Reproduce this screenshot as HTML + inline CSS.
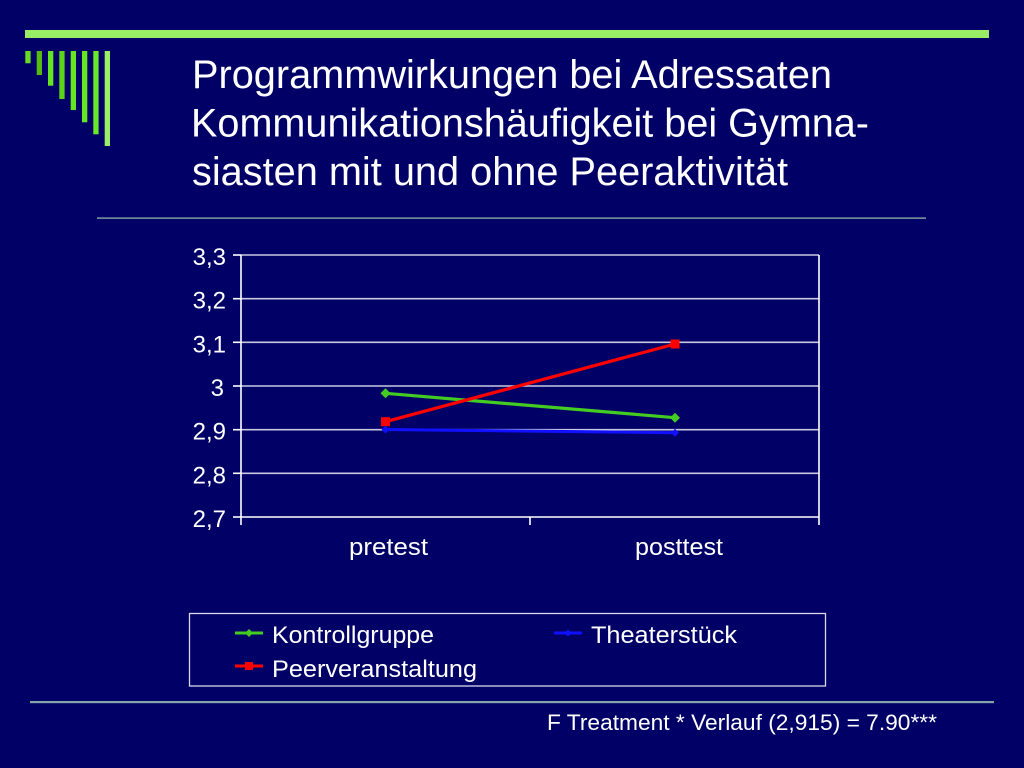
<!DOCTYPE html>
<html>
<head>
<meta charset="utf-8">
<style>
  html, body { margin:0; padding:0; background:#000066; }
  svg { display:block; }
  text { font-family: "Liberation Sans", Arial, sans-serif; fill:#ffffff; }
</style>
</head>
<body>
<svg width="1024" height="768" viewBox="0 0 1024 768" xmlns="http://www.w3.org/2000/svg">
  <rect x="0" y="0" width="1024" height="768" fill="#000066"/>

  <!-- top decoration -->
  <rect x="25" y="30" width="964" height="8" fill="#99ee66"/>
  <rect x="25.3" y="51" width="5.3" height="12.3" fill="#66dd22"/>
  <rect x="36.7" y="51" width="5.3" height="24" fill="#55bb11"/>
  <rect x="48" y="51" width="5.3" height="34.7" fill="#66e622"/>
  <rect x="59.3" y="51" width="5.3" height="48" fill="#5cd418"/>
  <rect x="70.7" y="51" width="5.3" height="59" fill="#66e622"/>
  <rect x="82" y="51" width="5.3" height="71.3" fill="#66e622"/>
  <rect x="93.3" y="51" width="5.3" height="83.3" fill="#6ae82a"/>
  <rect x="104.7" y="51" width="5.3" height="95" fill="#99ee66"/>

  <!-- title -->
  <text x="192" y="88" font-size="39.5" textLength="640" lengthAdjust="spacingAndGlyphs">Programmwirkungen bei Adressaten</text>
  <text x="191" y="136.5" font-size="39.5" textLength="678" lengthAdjust="spacingAndGlyphs">Kommunikationshäufigkeit bei Gymna-</text>
  <text x="192" y="185" font-size="39.5" textLength="596" lengthAdjust="spacingAndGlyphs">siasten mit und ohne Peeraktivität</text>

  <!-- title separator -->
  <rect x="97" y="217.5" width="829" height="1.2" fill="#9cc4b0"/>

  <!-- gridlines -->
  <g stroke="#c8c8e0" stroke-width="1.6">
    <line x1="241" y1="255" x2="819" y2="255"/>
    <line x1="241" y1="298.7" x2="819" y2="298.7"/>
    <line x1="241" y1="342.3" x2="819" y2="342.3"/>
    <line x1="241" y1="386" x2="819" y2="386"/>
    <line x1="241" y1="429.7" x2="819" y2="429.7"/>
    <line x1="241" y1="473.3" x2="819" y2="473.3"/>
  </g>
  <!-- axes -->
  <g stroke="#ffffff" stroke-width="1.6">
    <line x1="241" y1="255" x2="241" y2="525"/>
    <line x1="819" y1="255" x2="819" y2="525"/>
    <line x1="241" y1="517" x2="819" y2="517"/>
    <line x1="530" y1="517" x2="530" y2="525"/>
    <line x1="233" y1="255" x2="241" y2="255"/>
    <line x1="233" y1="298.7" x2="241" y2="298.7"/>
    <line x1="233" y1="342.3" x2="241" y2="342.3"/>
    <line x1="233" y1="386" x2="241" y2="386"/>
    <line x1="233" y1="429.7" x2="241" y2="429.7"/>
    <line x1="233" y1="473.3" x2="241" y2="473.3"/>
    <line x1="233" y1="517" x2="241" y2="517"/>
  </g>

  <!-- y labels -->
  <g font-size="24" text-anchor="end">
    <text x="226" y="265">3,3</text>
    <text x="226" y="308.7">3,2</text>
    <text x="226" y="352.3">3,1</text>
    <text x="224" y="396">3</text>
    <text x="226" y="439.7">2,9</text>
    <text x="226" y="483.3">2,8</text>
    <text x="226" y="527">2,7</text>
  </g>

  <!-- x labels -->
  <text x="349" y="555" font-size="24.5" textLength="79" lengthAdjust="spacingAndGlyphs">pretest</text>
  <text x="635" y="555" font-size="24.5" textLength="88" lengthAdjust="spacingAndGlyphs">posttest</text>

  <!-- series: Kontrollgruppe (green) -->
  <line x1="385.5" y1="393.3" x2="675" y2="417.7" stroke="#44cc22" stroke-width="3.2"/>
  <polygon points="385.5,388.3 390.5,393.3 385.5,398.3 380.5,393.3" fill="#44cc22"/>
  <polygon points="675,412.7 680,417.7 675,422.7 670,417.7" fill="#44cc22"/>

  <!-- series: Theaterstück (blue) -->
  <line x1="385.5" y1="429.5" x2="675" y2="432.7" stroke="#1010ff" stroke-width="3"/>
  <polygon points="385.5,425.5 389.5,429.5 385.5,433.5 381.5,429.5" fill="#1010ff"/>
  <polygon points="675,428.7 679,432.7 675,436.7 671,432.7" fill="#1010ff"/>

  <!-- series: Peerveranstaltung (red) -->
  <line x1="385.5" y1="421.7" x2="675" y2="344" stroke="#ff0000" stroke-width="3.2"/>
  <rect x="381" y="417.2" width="9" height="9" fill="#ff0000"/>
  <rect x="670.5" y="339.5" width="9" height="9" fill="#ff0000"/>

  <!-- legend -->
  <rect x="189.5" y="613.5" width="636" height="72.5" fill="none" stroke="#d8d8ec" stroke-width="1.3"/>
  <line x1="235" y1="633" x2="263" y2="633" stroke="#44cc22" stroke-width="3"/>
  <polygon points="249,629 253,633 249,637 245,633" fill="#44cc22"/>
  <text x="272" y="643" font-size="24.5" textLength="162" lengthAdjust="spacingAndGlyphs">Kontrollgruppe</text>

  <line x1="554" y1="633" x2="582" y2="633" stroke="#1010ff" stroke-width="3"/>
  <polygon points="568,629.5 571.5,633 568,636.5 564.5,633" fill="#1010ff"/>
  <text x="591" y="643" font-size="24.5" textLength="146" lengthAdjust="spacingAndGlyphs">Theaterstück</text>

  <line x1="235" y1="666" x2="263" y2="666" stroke="#ff0000" stroke-width="3"/>
  <rect x="245" y="662" width="8" height="8" fill="#ff0000"/>
  <text x="272" y="677" font-size="24.5" textLength="205" lengthAdjust="spacingAndGlyphs">Peerveranstaltung</text>

  <!-- bottom separator -->
  <rect x="30" y="701" width="964" height="2.2" fill="#84a4ac"/>

  <!-- footer -->
  <text x="547" y="730" font-size="22.5" textLength="390" lengthAdjust="spacingAndGlyphs">F Treatment * Verlauf (2,915) = 7.90***</text>
</svg>
</body>
</html>
